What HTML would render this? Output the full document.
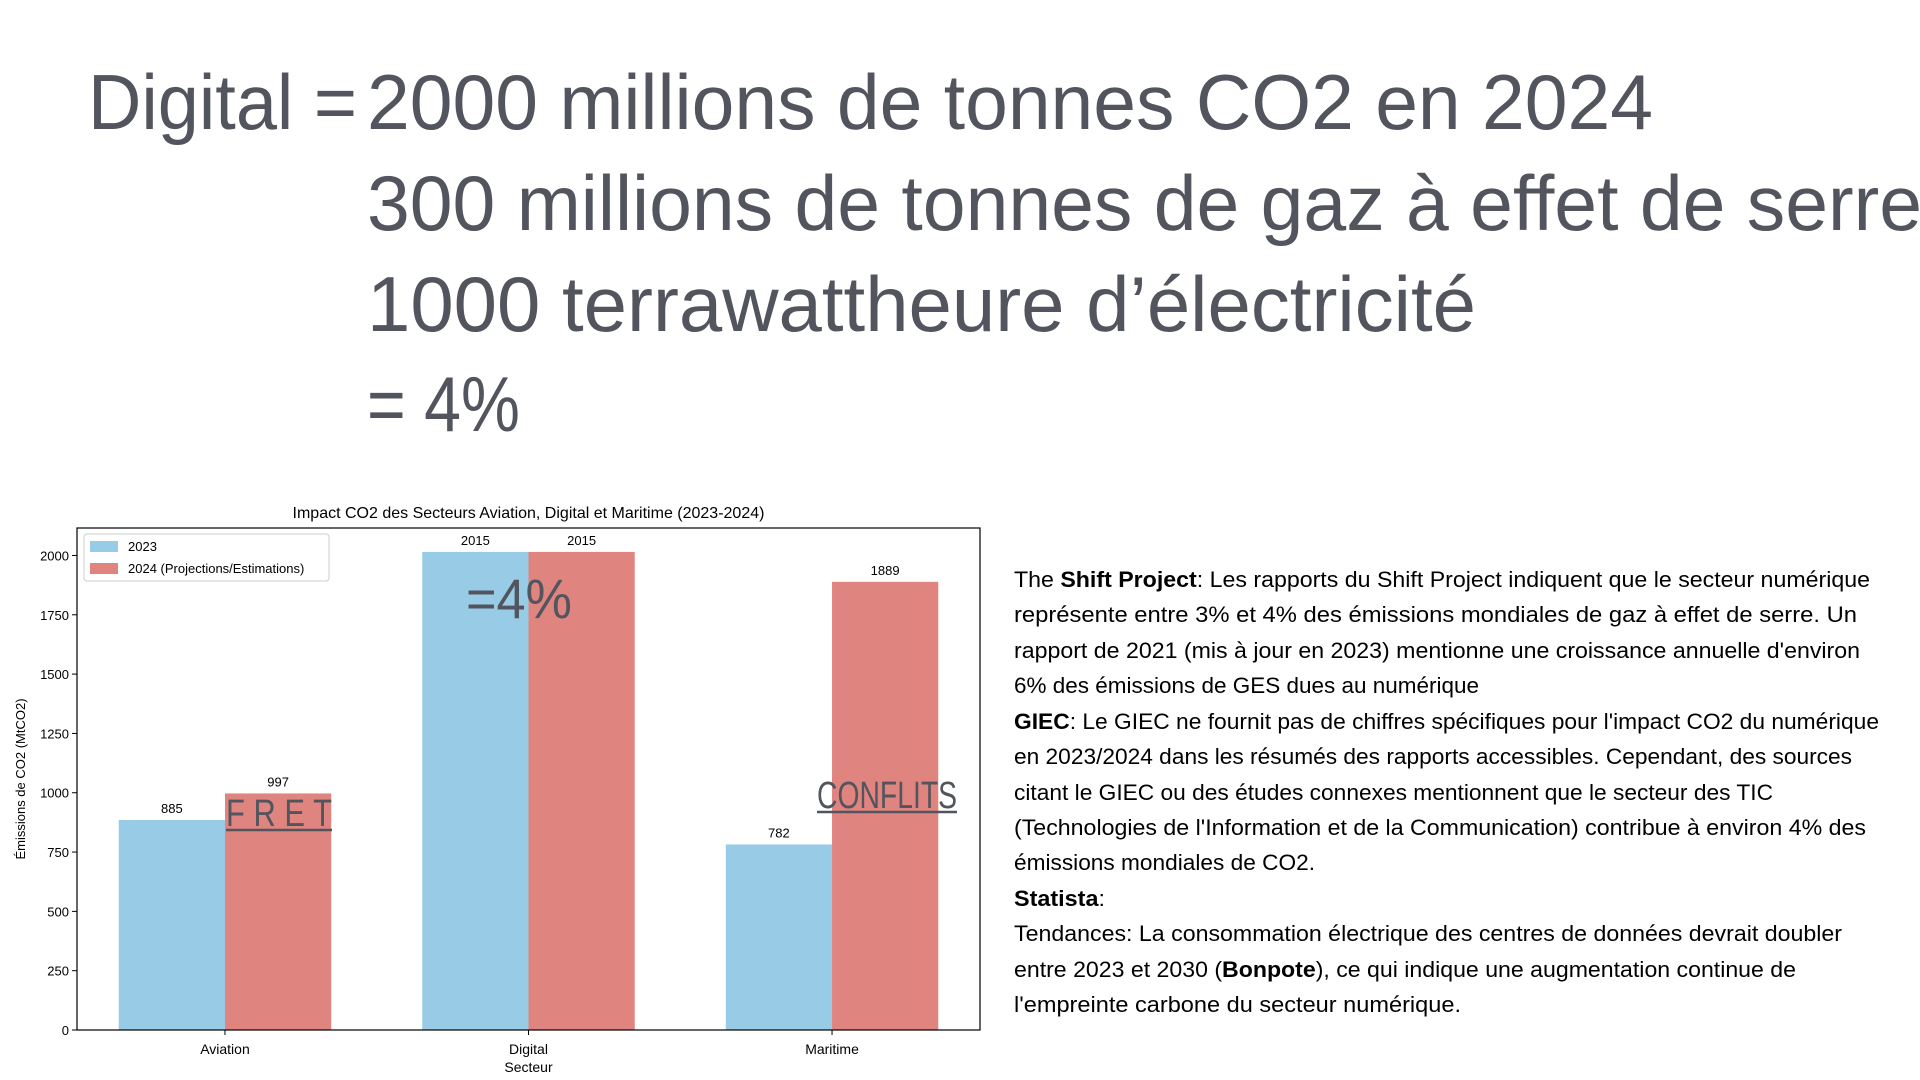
<!DOCTYPE html>
<html><head><meta charset="utf-8">
<style>
html,body{margin:0;padding:0;background:#fff;width:1920px;height:1080px;overflow:hidden}
svg{display:block}
.h{font-family:"Liberation Sans",sans-serif;fill:#52555d;font-size:78px}
.p{font-family:"Liberation Sans",sans-serif;fill:#000;font-size:22px}
.c{font-family:"Liberation Sans",sans-serif;fill:#000}
</style></head>
<body>
<svg id="root" width="1920" height="1080" viewBox="0 0 1920 1080">
 <g>
  <text class="h" x="88" y="129" textLength="269" lengthAdjust="spacingAndGlyphs">Digital =</text>
  <text class="h" x="367" y="129" textLength="1286" lengthAdjust="spacingAndGlyphs">2000 millions de tonnes CO2 en 2024</text>
  <text class="h" x="367" y="230" textLength="1555" lengthAdjust="spacingAndGlyphs">300 millions de tonnes de gaz à effet de serre</text>
  <text class="h" x="367" y="331" textLength="1109" lengthAdjust="spacingAndGlyphs">1000 terrawattheure d’électricité</text>
  <text class="h" x="367" y="431" textLength="153" lengthAdjust="spacingAndGlyphs">= 4%</text>
 </g>
 <g>
  <text class="p" x="1014" y="587" textLength="856" lengthAdjust="spacingAndGlyphs">The <tspan font-weight="bold">Shift Project</tspan>: Les rapports du Shift Project indiquent que le secteur numérique</text>
  <text class="p" x="1014" y="622" textLength="843" lengthAdjust="spacingAndGlyphs">représente entre 3% et 4% des émissions mondiales de gaz à effet de serre. Un</text>
  <text class="p" x="1014" y="658" textLength="846" lengthAdjust="spacingAndGlyphs">rapport de 2021 (mis à jour en 2023) mentionne une croissance annuelle d'environ</text>
  <text class="p" x="1014" y="693" textLength="465" lengthAdjust="spacingAndGlyphs">6% des émissions de GES dues au numérique</text>
  <text class="p" x="1014" y="729" textLength="865" lengthAdjust="spacingAndGlyphs"><tspan font-weight="bold">GIEC</tspan>: Le GIEC ne fournit pas de chiffres spécifiques pour l'impact CO2 du numérique</text>
  <text class="p" x="1014" y="764" textLength="838" lengthAdjust="spacingAndGlyphs">en 2023/2024 dans les résumés des rapports accessibles. Cependant, des sources</text>
  <text class="p" x="1014" y="800" textLength="759" lengthAdjust="spacingAndGlyphs">citant le GIEC ou des études connexes mentionnent que le secteur des TIC</text>
  <text class="p" x="1014" y="835" textLength="852" lengthAdjust="spacingAndGlyphs">(Technologies de l'Information et de la Communication) contribue à environ 4% des</text>
  <text class="p" x="1014" y="870" textLength="301" lengthAdjust="spacingAndGlyphs">émissions mondiales de CO2.</text>
  <text class="p" x="1014" y="906" textLength="91" lengthAdjust="spacingAndGlyphs" font-weight="bold">Statista<tspan font-weight="normal">:</tspan></text>
  <text class="p" x="1014" y="941" textLength="828" lengthAdjust="spacingAndGlyphs">Tendances: La consommation électrique des centres de données devrait doubler</text>
  <text class="p" x="1014" y="977" textLength="782" lengthAdjust="spacingAndGlyphs">entre 2023 et 2030 (<tspan font-weight="bold">Bonpote</tspan>), ce qui indique une augmentation continue de</text>
  <text class="p" x="1014" y="1012" textLength="447" lengthAdjust="spacingAndGlyphs">l'empreinte carbone du secteur numérique.</text>
 </g>
 <g id="chart"></g>
</svg>
<script>
const categories = ["Aviation", "Digital", "Maritime"];
const values2023 = [885, 2015, 782];
const values2024 = [997, 2015, 1889];
const yTicks = [0, 250, 500, 750, 1000, 1250, 1500, 1750, 2000];
const seriesNames = ["2023", "2024 (Projections/Estimations)"];

const NS = "http://www.w3.org/2000/svg";
const chart = document.getElementById("chart");
const L = 77, R = 980, T = 528, B = 1030;
const yMax = Math.max(...values2023, ...values2024) * 1.05;
const barW = 0.35;
const xMin = -0.4875, xMax = categories.length - 1 + 0.4875;
function xs(v){ return L + (v - xMin) / (xMax - xMin) * (R - L); }
function ys(v){ return B - v / yMax * (B - T); }
function mk(tag, attrs, parent){
  const e = document.createElementNS(NS, tag);
  for (const k in attrs) e.setAttribute(k, attrs[k]);
  (parent || chart).appendChild(e);
  return e;
}
const colors = ["#97cbe6", "#e08480"];
[values2023, values2024].forEach((vals, s) => {
  vals.forEach((v, i) => {
    const x0 = xs(i + (s === 0 ? -barW : 0));
    const x1 = xs(i + (s === 0 ? 0 : barW));
    const r = mk("rect", {x: x0, y: ys(v), width: x1 - x0, height: B - ys(v), fill: colors[s]});
    
    
    const t = mk("text", {x: (x0 + x1) / 2, y: ys(v) - 7, "text-anchor": "middle", "font-size": "13", class: "c"});
    t.textContent = v;
    
    
  });
});
// axes frame
const frame = mk("rect", {x: L, y: T, width: R - L, height: B - T, fill: "none", stroke: "#000", "stroke-width": "1.2"});


yTicks.forEach(v => {
  mk("line", {x1: L - 5, x2: L, y1: ys(v), y2: ys(v), stroke: "#000"});
  const t = mk("text", {x: L - 8, y: ys(v) + 5, "text-anchor": "end", "font-size": "13", class: "c"});
  t.textContent = v;
  
  
});
categories.forEach((c, i) => {
  mk("line", {x1: xs(i), x2: xs(i), y1: B, y2: B + 5, stroke: "#000"});
  const t = mk("text", {x: xs(i), y: B + 24, "text-anchor": "middle", "font-size": "14", class: "c"});
  t.textContent = c;
  
  
});
const title = mk("text", {x: (L + R) / 2, y: 518, "text-anchor": "middle", "font-size": "16", class: "c"});
title.textContent = "Impact CO2 des Secteurs Aviation, Digital et Maritime (2023-2024)";


const xl = mk("text", {x: (L + R) / 2, y: 1072, "text-anchor": "middle", "font-size": "14", class: "c"});
xl.textContent = "Secteur";


const yl = mk("text", {x: 0, y: 0, "text-anchor": "middle", "font-size": "13", class: "c", transform: "translate(25,779) rotate(-90)"});
yl.textContent = "Émissions de CO2 (MtCO2)";


// legend
const lg = mk("g", {});


mk("rect", {x: 84, y: 534, width: 245, height: 47, fill: "#fff", stroke: "#ccc", rx: 3}, lg);
seriesNames.forEach((n, s) => {
  const sw = mk("rect", {x: 90, y: 541 + s * 22, width: 28, height: 11, fill: colors[s]}, lg);
  
  
  const t = mk("text", {x: 128, y: 551 + s * 22, "font-size": "13", class: "c"}, lg);
  t.textContent = n;
  
  
});
// overlay annotations
function ann(txt, x, y, size, len, name, ul){
  const t = mk("text", {x: x, y: y, "font-size": size, fill: "#52555d", "font-family": "Liberation Sans, sans-serif", textLength: len, lengthAdjust: "spacingAndGlyphs"});
  t.textContent = txt;
  
  
  if (ul) mk("line", {x1: x, x2: x + len, y1: y + 4, y2: y + 4, stroke: "#52555d", "stroke-width": "2.5"});
}
ann("=4%", 466, 618, 56, 106, "digital-share-annotation", false);
ann("F R E T", 226, 826, 38, 106, "fret-annotation", true);
ann("CONFLITS", 817, 808, 38, 140, "conflits-annotation", true);
</script>
</body></html>
